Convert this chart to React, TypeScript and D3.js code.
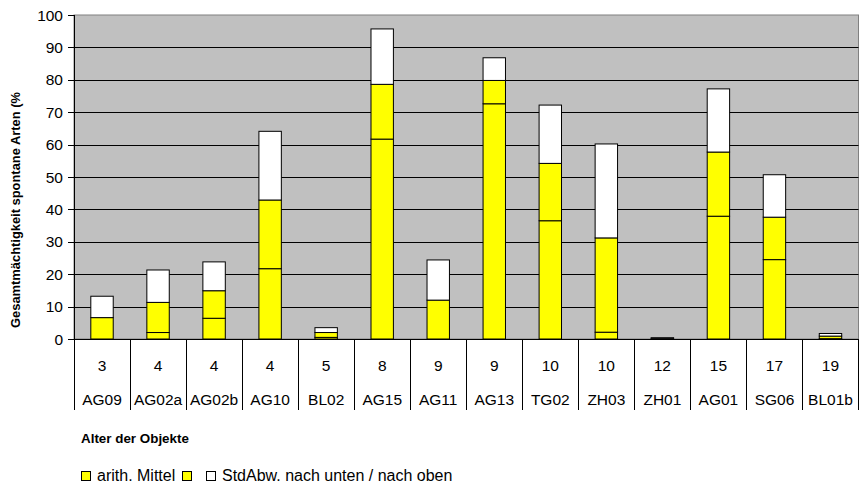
import React from "react";
import * as d3 from "d3";

// Objects and their age (years)
const codes = ["AG09", "AG02a", "AG02b", "AG10", "BL02", "AG15", "AG11", "AG13", "TG02", "ZH03", "ZH01", "AG01", "SG06", "BL01b"];
const ages = ["3", "4", "4", "4", "5", "8", "9", "9", "10", "10", "12", "15", "17", "19"];

// Mean minus SD, mean, mean plus SD (% total cover of spontaneous species)
const lowerBound = [0, 2.0, 6.4, 21.7, 0.5, 61.7, 0, 72.6, 36.5, 2.1, 0, 37.9, 24.5, 0.1];
const meanValue = [6.6, 11.3, 14.9, 42.9, 2.0, 78.6, 12.0, 79.8, 54.2, 31.2, 0.2, 57.7, 37.6, 0.9];
const upperBound = [13.2, 21.3, 23.8, 64.1, 3.5, 95.7, 24.4, 86.8, 72.2, 60.2, 0.4, 77.2, 50.7, 1.7];

const yTicks = [0, 10, 20, 30, 40, 50, 60, 70, 80, 90, 100];

const W = 860;
const H = 485;
const plot = { left: 74, right: 858.5, top: 15, bottom: 339 };
const FONT = "Liberation Sans, Arial, sans-serif";

export default function App() {
  const x = d3
    .scaleBand<string>()
    .domain(codes)
    .range([plot.left, plot.right])
    .paddingInner(0.6)
    .paddingOuter(0.3);
  const step = x.step();
  const xCat = d3.scaleBand<string>().domain(codes).range([plot.left, plot.right]);
  const y = d3.scaleLinear().domain([0, 100]).range([plot.bottom, plot.top]);

  const segments = codes.map((c, i) => [
    { y0: 0, y1: lowerBound[i], fill: "#FFFF00" },
    { y0: lowerBound[i], y1: meanValue[i], fill: "#FFFF00" },
    { y0: meanValue[i], y1: upperBound[i], fill: "#FFFFFF" },
  ]);

  return (
    <svg width={W} height={H} style={{ position: "absolute", left: 0, top: 0, background: "#fff" }} fontFamily={FONT}>
      {/* plot background */}
      <rect x={plot.left} y={plot.top} width={plot.right - plot.left} height={plot.bottom - plot.top} fill="#C0C0C0" stroke="#808080" strokeWidth={1} />
      {/* gridlines */}
      {yTicks.slice(1, -1).map((t) => (
        <line key={t} x1={plot.left} x2={plot.right} y1={Math.round(y(t)) + 0.5} y2={Math.round(y(t)) + 0.5} stroke="#000" strokeWidth={1} />
      ))}
      {/* bars */}
      {codes.map((c, i) => (
        <g key={c}>
          {segments[i].map((s, k) =>
            s.y1 - s.y0 > 0 ? (
              <rect
                key={k}
                x={x(c)!}
                width={x.bandwidth()}
                y={y(s.y1)}
                height={y(s.y0) - y(s.y1)}
                fill={s.fill}
                stroke="#000"
                strokeWidth={1}
              />
            ) : null
          )}
        </g>
      ))}
      {/* y axis */}
      <line x1={plot.left + 0.5} x2={plot.left + 0.5} y1={plot.top} y2={plot.bottom} stroke="#000" />
      {yTicks.map((t) => (
        <g key={t}>
          <line x1={plot.left - 6} x2={plot.left} y1={Math.round(y(t)) + 0.5} y2={Math.round(y(t)) + 0.5} stroke="#000" />
          <text x={plot.left - 11} y={y(t)} dy="0.36em" textAnchor="end" fontSize={15.5}>
            {t}
          </text>
        </g>
      ))}
      {/* x axis */}
      <line x1={plot.left} x2={plot.right} y1={plot.bottom + 0.5} y2={plot.bottom + 0.5} stroke="#000" />
      {codes.map((c, i) => (
        <g key={c}>
          <line x1={Math.round(xCat(c)!) + 0.5} x2={Math.round(xCat(c)!) + 0.5} y1={plot.bottom} y2={410} stroke="#000" />
          <text x={xCat(c)! + step / 2} y={370.5} textAnchor="middle" fontSize={15.5}>
            {ages[i]}
          </text>
          <text x={xCat(c)! + step / 2} y={405} textAnchor="middle" fontSize={15.5}>
            {c}
          </text>
        </g>
      ))}
      <line x1={Math.round(plot.right) - 0.5} x2={Math.round(plot.right) - 0.5} y1={plot.bottom} y2={410} stroke="#000" />
      {/* axis titles */}
      <text x={81} y={443} fontSize={13.4} fontWeight="bold">
        Alter der Objekte
      </text>
      <text transform="translate(20,210) rotate(-90)" textAnchor="middle" fontSize={12.9} fontWeight="bold">
        Gesamtmächtigkeit spontane Arten (%
      </text>
      {/* legend */}
      <g fontSize={16}>
        <rect x={81.5} y={471.5} width={9} height={9} fill="#FFFF00" stroke="#000" />
        <text x={97} y={480.5}>arith. Mittel</text>
        <rect x={182.5} y={471.5} width={9} height={9} fill="#FFFF00" stroke="#000" />
        <rect x={206.5} y={471.5} width={9} height={9} fill="#FFFFFF" stroke="#000" />
        <text x={222} y={480.5}>StdAbw. nach unten / nach oben</text>
      </g>
    </svg>
  );
}
